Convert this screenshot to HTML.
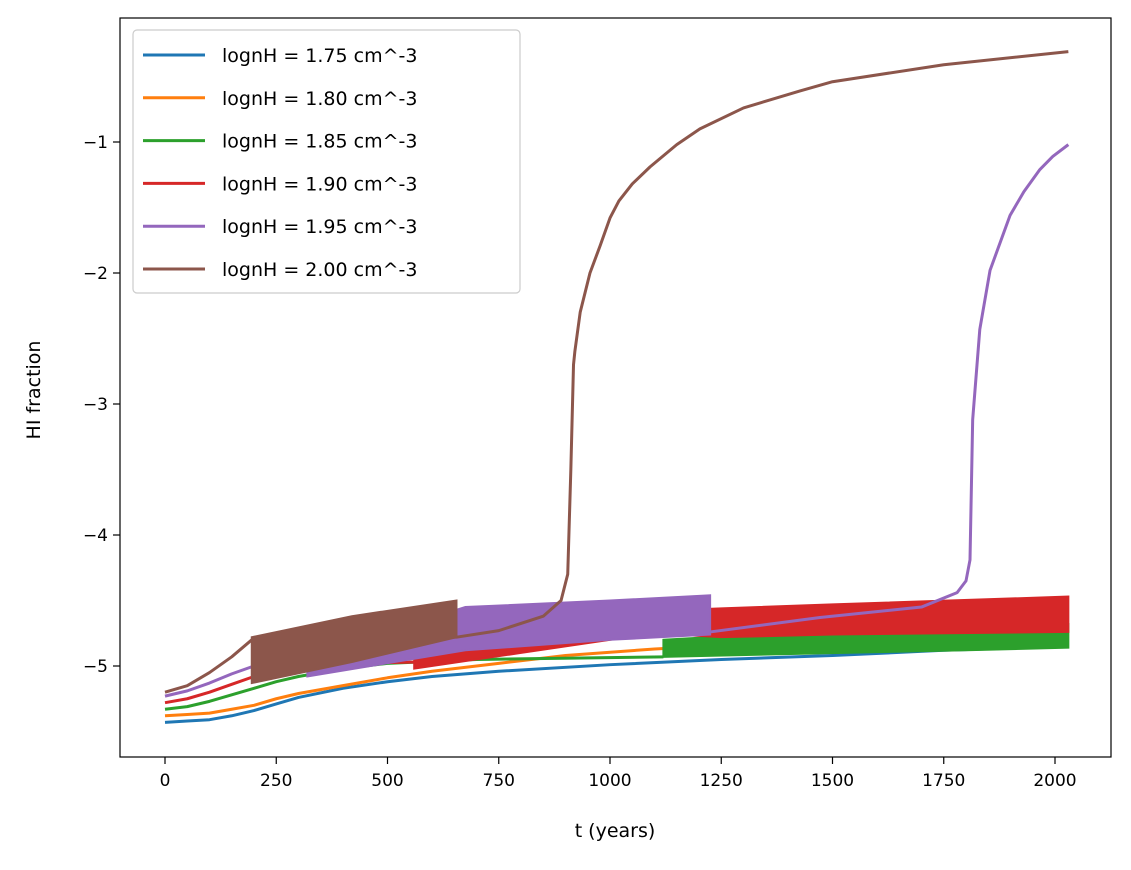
<!DOCTYPE html>
<html><head><meta charset="utf-8"><style>
body{margin:0;background:#fff;font-family:"Liberation Sans","DejaVu Sans",sans-serif}
svg text{font-family:"DejaVu Sans","Liberation Sans",sans-serif}
</style></head><body>
<svg id="chart" width="1131" height="865" xmlns="http://www.w3.org/2000/svg">
<rect x="0" y="0" width="1131" height="865" fill="#fff"/>
<g id="plot"></g>
<rect x="120" y="18" width="991" height="739" fill="none" stroke="#000" stroke-width="1.2"/>
<g id="axes"></g>
<text x="615" y="837" font-size="19" text-anchor="middle">t (years)</text>
<text x="40" y="390" font-size="19" text-anchor="middle" transform="rotate(-90 40 390)">HI fraction</text>
<g id="legend"></g>
</svg>
<script>
const xTicks=[0,250,500,750,1000,1250,1500,1750,2000];
const yTicks=[-1,-2,-3,-4,-5];
const yTickLabels=["\u22121","\u22122","\u22123","\u22124","\u22125"];
const seriesNames=["lognH = 1.75 cm^-3","lognH = 1.80 cm^-3","lognH = 1.85 cm^-3","lognH = 1.90 cm^-3","lognH = 1.95 cm^-3","lognH = 2.00 cm^-3"];
const colors=["#1f77b4","#ff7f0e","#2ca02c","#d62728","#9467bd","#8c564b"];
const tBlue=[0,50,100,150,200,250,300,400,500,600,750,1000,1250,1500,1750,2030];
const vBlue=[-5.43,-5.42,-5.41,-5.38,-5.34,-5.29,-5.24,-5.17,-5.12,-5.08,-5.04,-4.99,-4.95,-4.92,-4.88,-4.85];
const tOrange=[0,50,100,150,200,250,300,400,500,600,750,900,1100,1500,2030];
const vOrange=[-5.38,-5.37,-5.36,-5.33,-5.30,-5.25,-5.21,-5.15,-5.09,-5.04,-4.98,-4.92,-4.87,-4.80,-4.73];
const tGreen=[0,50,100,150,200,250,300,400,500,700,1120];
const vGreen=[-5.33,-5.31,-5.27,-5.22,-5.17,-5.12,-5.08,-5.02,-4.98,-4.95,-4.93];
const tRed=[0,50,100,150,200,300,400,560];
const vRed=[-5.28,-5.25,-5.20,-5.14,-5.08,-5.02,-4.98,-4.97];
const tPurple=[0,50,100,150,200,320,1225,1472,1700,1780,1800,1809,1815,1831,1854,1899,1930,1966,1995,2030];
const vPurple=[-5.23,-5.19,-5.13,-5.06,-5.00,-4.93,-4.74,-4.63,-4.55,-4.44,-4.35,-4.19,-3.12,-2.43,-1.98,-1.56,-1.38,-1.21,-1.11,-1.02];
const tBrown=[0,50,100,150,195,655,750,850,890,905,912,918,921,933,955,978,1000,1020,1050,1090,1150,1202,1300,1427,1500,1750,2030];
const vBrown=[-5.2,-5.15,-5.05,-4.93,-4.8,-4.78,-4.73,-4.62,-4.5,-4.3,-3.5,-2.7,-2.6,-2.3,-2.0,-1.79,-1.58,-1.45,-1.32,-1.19,-1.02,-0.90,-0.74,-0.61,-0.54,-0.41,-0.31];
const bandGreenT=[1120,1380,1800,2030];
const bandGreenUp=[-4.80,-4.75,-4.72,-4.68];
const bandGreenLo=[-4.93,-4.91,-4.88,-4.86];
const bandRedT=[560,800,1100,1250,1500,2030];
const bandRedUp=[-4.92,-4.75,-4.58,-4.56,-4.53,-4.47];
const bandRedLo=[-5.02,-4.90,-4.75,-4.78,-4.76,-4.74];
const bandPurpleT=[320,675,1000,1225];
const bandPurpleUp=[-4.93,-4.55,-4.50,-4.46];
const bandPurpleLo=[-5.08,-4.88,-4.80,-4.76];
const bandBrownT=[195,420,655];
const bandBrownUp=[-4.78,-4.62,-4.50];
const bandBrownLo=[-5.13,-4.97,-4.78];

const X=t=>165+t*0.445;
const Y=v=>666-(v+5)*131;
const NS="http://www.w3.org/2000/svg";
function mk(tag,attrs,parent){const e=document.createElementNS(NS,tag);for(const k in attrs)e.setAttribute(k,attrs[k]);parent.appendChild(e);return e;}
const plot=document.getElementById('plot'),axes=document.getElementById('axes'),legend=document.getElementById('legend');
xTicks.forEach(t=>{
 const l=mk('line',{x1:X(t),x2:X(t),y1:757,y2:764,stroke:'#000','stroke-width':1.2},axes);
 
 
 const tx=mk('text',{x:X(t),y:786,'font-size':17,'text-anchor':'middle'},axes);tx.textContent=t;
 
 
});
yTicks.forEach((v,i)=>{
 const l=mk('line',{x1:113,x2:120,y1:Y(v),y2:Y(v),stroke:'#000','stroke-width':1.2},axes);
 
 
 const tx=mk('text',{x:108,y:Y(v)+6,'font-size':17,'text-anchor':'end'},axes);tx.textContent=yTickLabels[i];
 
 
});
function line(ts,vs,c,name){
 const p=mk('polyline',{points:ts.map((t,i)=>X(t)+','+Y(vs[i])).join(' '),fill:'none',stroke:c,'stroke-width':3,'stroke-linejoin':'round'},plot);
 
 
}
function band(ts,up,lo,c,name){
 const pts=ts.map((t,i)=>X(t)+','+Y(up[i])).concat(ts.slice().reverse().map((t,j)=>X(t)+','+Y(lo[ts.length-1-j])));
 const p=mk('polygon',{points:pts.join(' '),fill:c,stroke:c,'stroke-width':2},plot);
 
 
}
line(tBlue,vBlue,colors[0],'series-1-75');
line(tOrange,vOrange,colors[1],'series-1-80');
line(tGreen,vGreen,colors[2],'series-1-85');
band(bandGreenT,bandGreenUp,bandGreenLo,colors[2],'band-1-85');
line(tRed,vRed,colors[3],'series-1-90');
band(bandRedT,bandRedUp,bandRedLo,colors[3],'band-1-90');
line(tPurple,vPurple,colors[4],'series-1-95');
band(bandPurpleT,bandPurpleUp,bandPurpleLo,colors[4],'band-1-95');
line(tBrown,vBrown,colors[5],'series-2-00');
band(bandBrownT,bandBrownUp,bandBrownLo,colors[5],'band-2-00');
const lb=mk('rect',{x:133,y:30,width:387,height:263,rx:4,fill:'#fff','fill-opacity':0.8,stroke:'#ccc','stroke-width':1.2},legend);


seriesNames.forEach((n,i)=>{
 const y=55+i*42.8;
 const l=mk('line',{x1:143,x2:205,y1:y,y2:y,stroke:colors[i],'stroke-width':3},legend);
 
 
 const tx=mk('text',{x:222,y:y+7,'font-size':19},legend);tx.textContent=n;
 
 
});
</script>
</body></html>
